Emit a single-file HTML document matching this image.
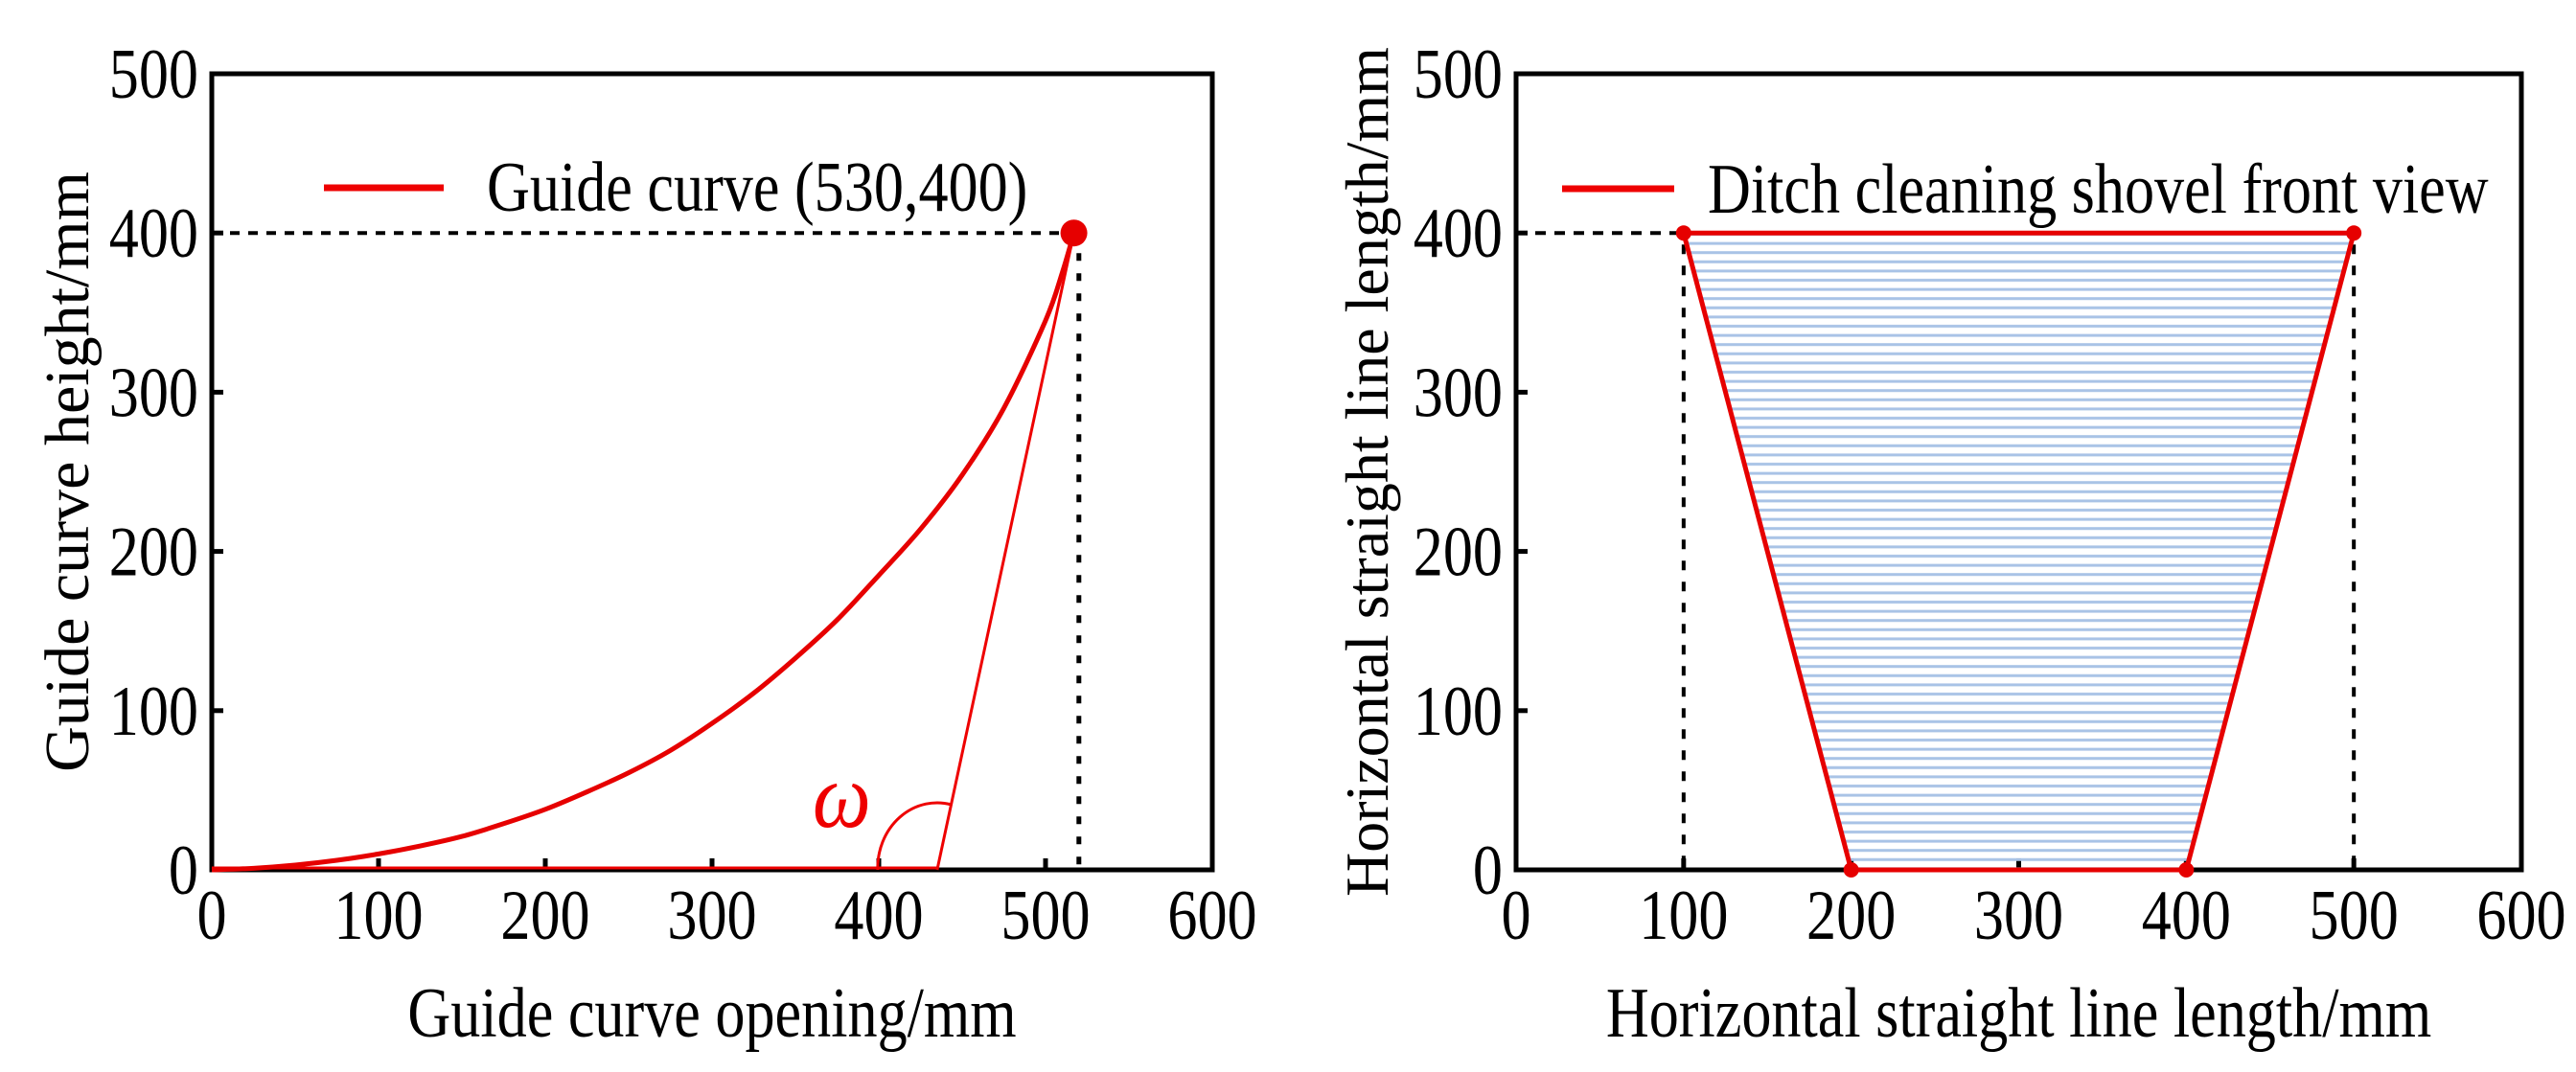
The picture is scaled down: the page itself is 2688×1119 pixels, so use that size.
<!DOCTYPE html>
<html><head><meta charset="utf-8"><style>
html,body{margin:0;padding:0;background:#fff;}
svg{display:block;font-family:"Liberation Serif",serif;}
</style></head><body>
<svg id="s" width="2688" height="1119" viewBox="0 0 2688 1119" xmlns="http://www.w3.org/2000/svg">
<defs>
<pattern id="stripes" patternUnits="userSpaceOnUse" width="20" height="9.6">
<rect x="0" y="3" width="20" height="3" fill="#a9c3e6"/>
</pattern>
</defs>
<g id="left"></g>
<g id="right"></g>
</svg>
<script>
const xTicks=[0,100,200,300,400,500,600];
const yTicks=[0,100,200,300,400,500];
const curveX=[0,25,50,75,100,125,150,175,200,225,250,275,300,325,350,375,400,425,450,475,500,510,517];
const curveY=[0,1,3,6,10,15,21,29,38,49,61,75,92,111,133,157,185,214,248,290,345,375,400];
const tangentX=[435,517];
const tangentY=[0,400];
const endPoint=[517,400];
const dropX=520;
const trapX=[100,500,400,200];
const trapY=[400,400,0,0];
const NS="http://www.w3.org/2000/svg";
function mk(p,tag,attrs,name,text){const e=document.createElementNS(NS,tag);for(const k in attrs)e.setAttribute(k,attrs[k]);


if(text!==undefined)e.textContent=text;p.appendChild(e);return e;}
const FS=74, SX=0.84;
function txt(p,x,y,anchor,name,text,extra){
 const a=Object.assign({x:0,y:0,'font-size':FS,'text-anchor':anchor,transform:`translate(${x},${y}) scale(${SX},1)`},extra||{});
 return mk(p,'text',a,name,text);
}
function axes(g,L,R,T,B,xt,yt,ytx,yfs){
 const sx=v=>L+(v-0)/600*(R-L), sy=v=>B-(v)/500*(B-T);
 mk(g,'rect',{x:L,y:T,width:R-L,height:B-T,fill:'none',stroke:'#000','stroke-width':5},'plot-frame');
 xTicks.forEach(v=>{if(v>0&&v<600)mk(g,'line',{x1:sx(v),x2:sx(v),y1:B,y2:B-12,stroke:'#000','stroke-width':5},'x-tick');
  txt(g,sx(v),980,'middle','x-tick-label',v);});
 yTicks.forEach(v=>{if(v>0&&v<500)mk(g,'line',{x1:L,x2:L+12,y1:sy(v),y2:sy(v),stroke:'#000','stroke-width':5},'y-tick');
  txt(g,L-14,sy(v)+25,'end','y-tick-label',v);});
 txt(g,(L+R)/2,1082,'middle','x-axis-title',xt);
 mk(g,'text',{x:0,y:0,'font-size':yfs,'text-anchor':'middle',transform:`translate(${ytx},${(T+B)/2}) rotate(-90)`},'y-axis-title',yt);
 return [sx,sy];
}
function smooth(px,py){
 let d='M'+px[0]+' '+py[0];
 for(let i=0;i<px.length-1;i++){
  const i0=Math.max(0,i-1),i3=Math.min(px.length-1,i+2);
  const c1x=px[i]+(px[i+1]-px[i0])/6,c1y=py[i]+(py[i+1]-py[i0])/6;
  const c2x=px[i+1]-(px[i3]-px[i])/6,c2y=py[i+1]-(py[i3]-py[i])/6;
  d+=` C${c1x} ${c1y} ${c2x} ${c2y} ${px[i+1]} ${py[i+1]}`;
 }
 return d;
}
// left chart
const gl=document.getElementById('left');
const [lx,ly]=axes(gl,221,1265,77,908,'Guide curve opening/mm','Guide curve height/mm',92,66);
mk(gl,'line',{x1:lx(0),x2:lx(endPoint[0]),y1:ly(400),y2:ly(400),stroke:'#000','stroke-width':4,'stroke-dasharray':'10 9'},'ref-line-horizontal');
mk(gl,'line',{x1:lx(dropX),x2:lx(dropX),y1:ly(400),y2:ly(0),stroke:'#000','stroke-width':5,'stroke-dasharray':'8 13'},'ref-line-vertical');
mk(gl,'line',{x1:lx(0),x2:lx(tangentX[0]),y1:ly(0)-2,y2:ly(0)-2,stroke:'#e00','stroke-width':3},'base-line');
mk(gl,'path',{d:smooth(curveX.map(lx),curveY.map(ly)),fill:'none',stroke:'#e60000','stroke-width':5},'guide-curve');
mk(gl,'line',{x1:lx(tangentX[0]),y1:ly(tangentY[0]),x2:lx(tangentX[1]),y2:ly(tangentY[1]),stroke:'#e00','stroke-width':3},'tangent-line');
const ax=lx(tangentX[0]), ay=ly(0);
mk(gl,'path',{d:`M ${ax-62} ${ay} A 62 68 0 0 1 ${ax+15} ${ay-68}`,fill:'none',stroke:'#e00','stroke-width':3},'omega-arc');
mk(gl,'text',{x:0,y:0,'font-size':96,'font-style':'italic',fill:'#e00',transform:`translate(${ax-130},${ay-45}) scale(0.9,1)`},'omega-label','ω');
mk(gl,'circle',{cx:lx(endPoint[0]),cy:ly(endPoint[1]),r:14,fill:'#e60000'},'end-point-marker');
mk(gl,'line',{x1:338,x2:463,y1:196,y2:196,stroke:'#e00','stroke-width':7},'legend-swatch');
txt(gl,508,220,'start','legend-label','Guide curve (530,400)');
// right chart
const gr=document.getElementById('right');
const [rx,ry]=axes(gr,1582,2631,77,908,'Horizontal straight line length/mm','Horizontal straight line length/mm',1448,64);
const pts=trapX.map((x,i)=>rx(x)+','+ry(trapY[i])).join(' ');
mk(gr,'polygon',{points:pts,fill:'url(#stripes)',stroke:'none'},'shovel-fill');
mk(gr,'line',{x1:rx(0),x2:rx(trapX[0]),y1:ry(400),y2:ry(400),stroke:'#000','stroke-width':4,'stroke-dasharray':'11 9'},'ref-line-horizontal');
[trapX[0],trapX[1]].forEach(x=>mk(gr,'line',{x1:rx(x),x2:rx(x),y1:ry(400)+12,y2:ry(0),stroke:'#000','stroke-width':4,'stroke-dasharray':'10 12'},'ref-line-vertical'));
mk(gr,'polygon',{points:pts,fill:'none',stroke:'#e60000','stroke-width':5},'shovel-outline');
trapX.forEach((x,i)=>mk(gr,'circle',{cx:rx(x),cy:ry(trapY[i]),r:8,fill:'#e60000'},'vertex-marker'));
mk(gr,'line',{x1:1630,x2:1747,y1:197,y2:197,stroke:'#e00','stroke-width':7},'legend-swatch');
txt(gr,1782,222,'start','legend-label','Ditch cleaning shovel front view');
</script>
</body></html>
